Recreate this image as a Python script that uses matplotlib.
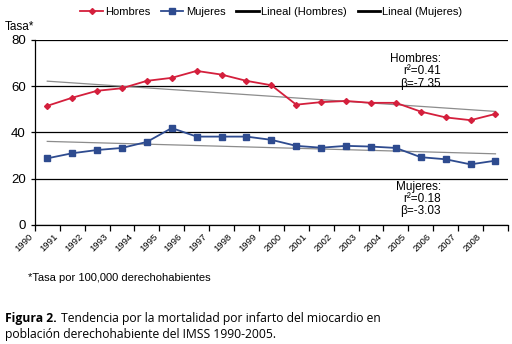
import numpy as np
import matplotlib
matplotlib.use('Agg')
import matplotlib.pyplot as plt

years = [str(y) for y in range(1990, 2009)]
hombres = [51.5, 55.0, 58.0, 59.1, 62.3, 63.6, 66.6, 65.0, 62.3, 60.4,
           52.0, 53.1, 53.6, 52.8, 52.8, 49.0, 46.5, 45.3, 48.0]
mujeres = [28.8, 31.0, 32.4, 33.3, 35.9, 41.9, 38.2, 38.2, 38.2, 36.8,
           34.2, 33.4, 34.2, 33.9, 33.3, 29.3, 28.4, 26.2, 27.8]
stats_h = "Hombres:\nr²=0.41\nβ=-7.35"
stats_m = "Mujeres:\nr²=0.18\nβ=-3.03"

plt.rcParams['font.family'] = ['Liberation Sans Narrow', 'Liberation Sans', 'DejaVu Sans']

fig = plt.figure(figsize=(5.12, 3.44), dpi=100)
ax = fig.add_axes([0.068, 0.346, 0.924, 0.538])

x = np.arange(len(years)) + 0.5
red = '#d41f3c'
blue = '#2e4b8f'

ax.plot(x, hombres, color=red, lw=1.3, marker='D', ms=3, label='Hombres', zorder=4)
ax.plot(x, mujeres, color=blue, lw=1.3, marker='s', ms=5, label='Mujeres', zorder=4)

# linear trends
for vals, lab in [(hombres, 'Lineal (Hombres)'), (mujeres, 'Lineal (Mujeres)')]:
    k, b = np.polyfit(np.arange(len(vals)), vals, 1)
    tr = k * np.arange(len(vals)) + b
    ax.plot(x, tr, color='#8c8c8c', lw=0.9, zorder=3)
    ax.plot([], [], color='black', lw=2, label=lab)

ax.set_xlim(0, len(years))
ax.set_ylim(0, 80)
ax.set_yticks([0, 20, 40, 60, 80])
ax.yaxis.grid(True, color='black', lw=0.9)
ax.set_axisbelow(True)
ax.set_xticks(np.arange(len(years) + 1))
ax.set_xticklabels(years + [''], rotation=45, ha='right', fontsize=6.8)
ax.tick_params(axis='y', labelsize=9.5, length=3, width=0.9)
ax.tick_params(axis='x', length=4, width=0.9, pad=1)
for s in ['top', 'right']:
    ax.spines[s].set_visible(False)
for s in ['left', 'bottom']:
    ax.spines[s].set_linewidth(0.9)

ax.legend(loc='lower center', bbox_to_anchor=(0.5, 1.1), ncol=4, frameon=False,
          fontsize=8, handlelength=2.0, columnspacing=1.0, handletextpad=0.2,
          borderaxespad=0)

ax.text(0.858, 0.93, stats_h, transform=ax.transAxes, ha='right', va='top',
        fontsize=8.5, linespacing=1.05)
ax.text(0.858, 0.24, stats_m, transform=ax.transAxes, ha='right', va='top',
        fontsize=8.5, linespacing=1.05)

fig.text(0.01, 0.905, 'Tasa*', fontsize=8.5, va='bottom')
fig.text(0.055, 0.192, '*Tasa por 100,000 derechohabientes', fontsize=8, va='center')

cap_font = ['Open Sans', 'DejaVu Sans']
t1 = fig.text(0.01, 0.055, 'Figura 2.', fontsize=8.7, fontweight='bold',
              family=cap_font, va='bottom')
fig.canvas.draw()
bb = t1.get_window_extent().transformed(fig.transFigure.inverted())
fig.text(bb.x1 + 0.008, 0.055, 'Tendencia por la mortalidad por infarto del miocardio en',
         fontsize=8.7, family=cap_font, va='bottom')
fig.text(0.01, 0.008, 'población derechohabiente del IMSS 1990-2005.',
         fontsize=8.7, family=cap_font, va='bottom')

fig.savefig('out.png', dpi=100)
